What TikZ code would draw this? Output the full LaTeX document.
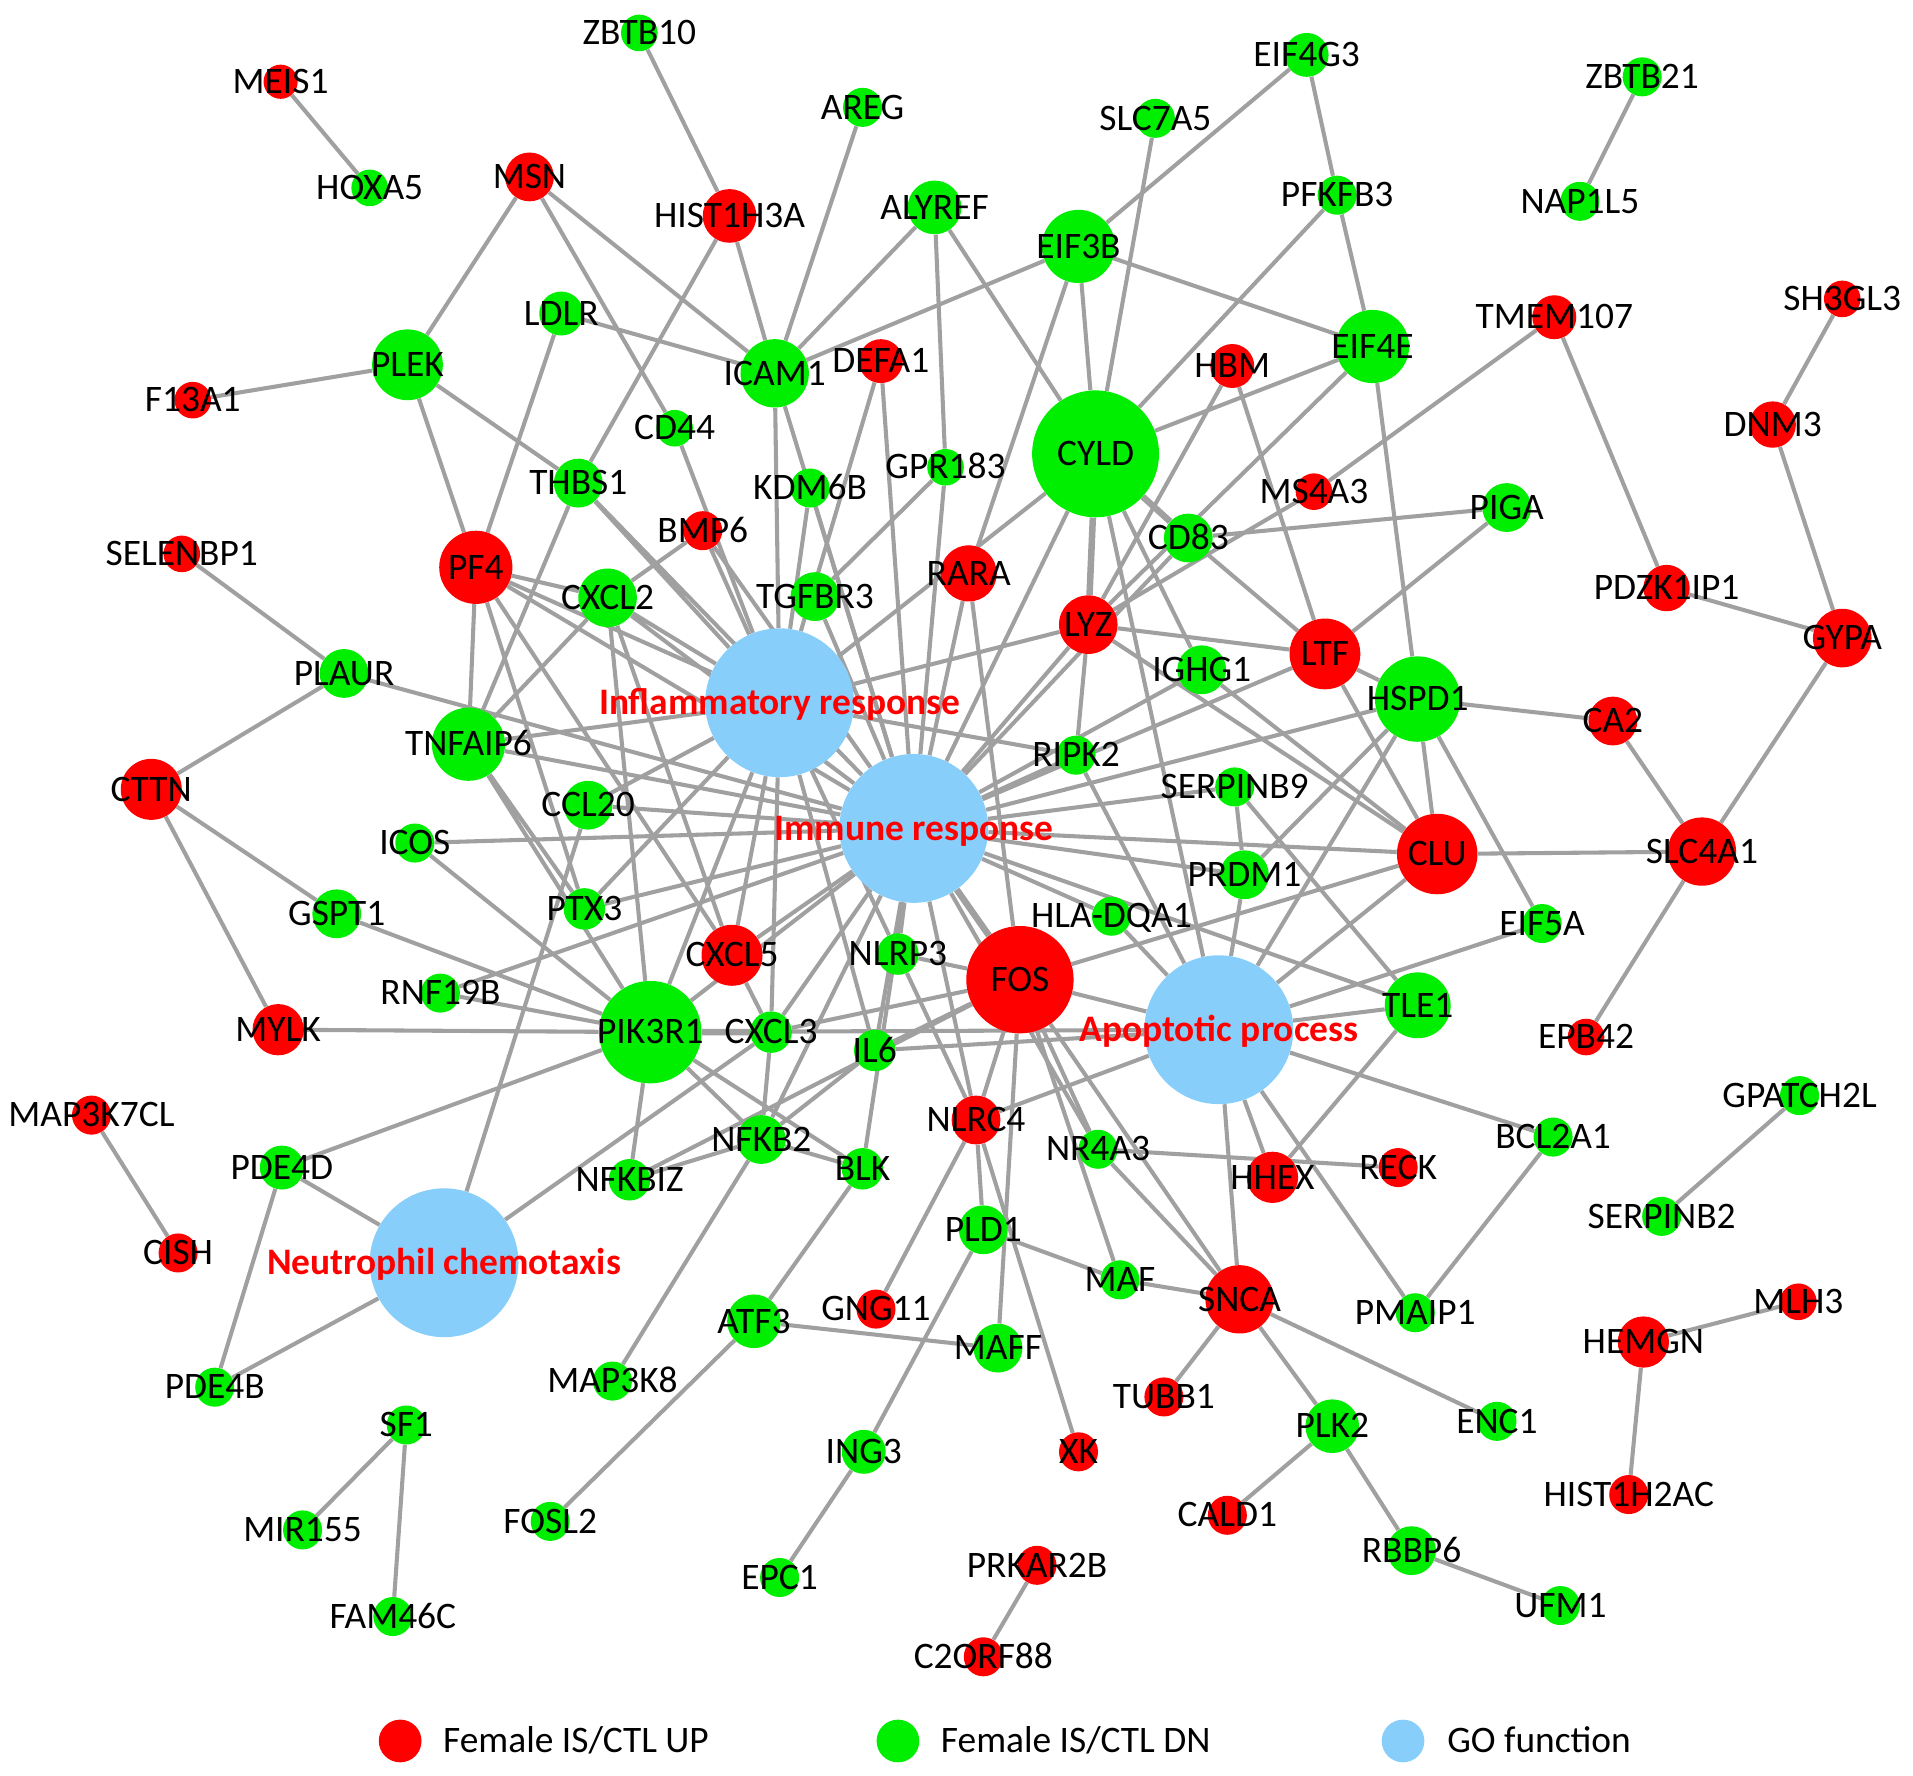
\documentclass[tikz,border=0pt]{standalone}
\usepackage{fontspec}
\setmainfont{Carlito}
\usetikzlibrary{backgrounds}
\definecolor{upred}{RGB}{255,0,0}
\definecolor{dngreen}{RGB}{0,238,0}
\definecolor{goblue}{RGB}{135,206,250}
\definecolor{edgegray}{RGB}{160,160,160}
\tikzset{
  gene/.style={circle, inner sep=0pt, minimum size=#1*0.75pt},
  upnode/.style={gene=#1, fill=upred},
  dnnode/.style={gene=#1, fill=dngreen},
  gonode/.style={gene=#1, fill=goblue},
  lbl/.style={font=\fontsize{23}{27}\selectfont, inner sep=0pt, text height=0.64em, text depth=0pt, yshift=-4pt},
  golbl/.style={font=\fontsize{23}{27}\selectfont\bfseries, text=upred, inner sep=0pt, text height=0.64em, text depth=0pt, yshift=-4pt},
  link/.style={draw=edgegray, line width=2.5pt},
  thicklink/.style={draw=edgegray, line width=4pt},
}
\begin{document}
\begin{tikzpicture}[x=0.75pt,y=0.75pt,yscale=-1,xscale=1]
\useasboundingbox (0,0) rectangle (1568,1455);

% GO terms
\node[gonode=122, label={[golbl]center:Inflammatory response}] (infl) at (639,576) {};
\node[gonode=122, label={[golbl]center:Immune response}] (immune) at (749,679) {};
\node[gonode=122, label={[golbl]center:Apoptotic process}] (apop) at (999,844) {};
\node[gonode=122, label={[golbl]center:Neutrophil chemotaxis}] (neutro) at (364,1035) {};

% Up-regulated genes
\node[upnode=28, label={[lbl]center:MEIS1}] (meis1) at (230,67) {};
\node[upnode=40, label={[lbl]center:MSN}] (msn) at (434,145) {};
\node[upnode=44, label={[lbl]center:HIST1H3A}] (hist1h3a) at (598,177) {};
\node[upnode=30, label={[lbl]center:F13A1}] (f13a1) at (158,328) {};
\node[upnode=36, label={[lbl]center:DEFA1}] (defa1) at (722,296) {};
\node[upnode=36, label={[lbl]center:HBM}] (hbm) at (1010,300) {};
\node[upnode=36, label={[lbl]center:TMEM107}] (tmem107) at (1274,260) {};
\node[upnode=30, label={[lbl]center:SH3GL3}] (sh3gl3) at (1510,245) {};
\node[upnode=38, label={[lbl]center:DNM3}] (dnm3) at (1453,348) {};
\node[upnode=30, label={[lbl]center:MS4A3}] (ms4a3) at (1077,403) {};
\node[upnode=60, label={[lbl]center:PF4}] (pf4) at (390,465) {};
\node[upnode=32, label={[lbl]center:BMP6}] (bmp6) at (576,435) {};
\node[upnode=46, label={[lbl]center:RARA}] (rara) at (794,470) {};
\node[upnode=48, label={[lbl]center:LYZ}] (lyz) at (892,512) {};
\node[upnode=58, label={[lbl]center:LTF}] (ltf) at (1086,536) {};
\node[upnode=38, label={[lbl]center:PDZK1IP1}] (pdzk1ip1) at (1366,482) {};
\node[upnode=48, label={[lbl]center:GYPA}] (gypa) at (1510,523) {};
\node[upnode=30, label={[lbl]center:SELENBP1}] (selenbp1) at (149,454) {};
\node[upnode=50, label={[lbl]center:CTTN}] (cttn) at (124,647) {};
\node[upnode=40, label={[lbl]center:CA2}] (ca2) at (1322,591) {};
\node[upnode=66, label={[lbl]center:CLU}] (clu) at (1178,700) {};
\node[upnode=56, label={[lbl]center:SLC4A1}] (slc4a1) at (1395,698) {};
\node[upnode=50, label={[lbl]center:CXCL5}] (cxcl5) at (600,783) {};
\node[upnode=88, label={[lbl]center:FOS}] (fos) at (836,803) {};
\node[upnode=42, label={[lbl]center:MYLK}] (mylk) at (228,844) {};
\node[upnode=30, label={[lbl]center:EPB42}] (epb42) at (1300,850) {};
\node[upnode=32, label={[lbl]center:MAP3K7CL}] (map3k7cl) at (75,914) {};
\node[upnode=40, label={[lbl]center:NLRC4}] (nlrc4) at (800,918) {};
\node[upnode=42, label={[lbl]center:HHEX}] (hhex) at (1043,965) {};
\node[upnode=32, label={[lbl]center:RECK}] (reck) at (1146,957) {};
\node[upnode=32, label={[lbl]center:CISH}] (cish) at (146,1027) {};
\node[upnode=56, label={[lbl]center:SNCA}] (snca) at (1016,1065) {};
\node[upnode=32, label={[lbl]center:GNG11}] (gng11) at (718,1073) {};
\node[upnode=42, label={[lbl]center:HEMGN}] (hemgn) at (1347,1100) {};
\node[upnode=30, label={[lbl]center:MLH3}] (mlh3) at (1474,1067) {};
\node[upnode=32, label={[lbl]center:TUBB1}] (tubb1) at (954,1145) {};
\node[upnode=32, label={[lbl]center:XK}] (xk) at (884,1190) {};
\node[upnode=32, label={[lbl]center:CALD1}] (cald1) at (1006,1242) {};
\node[upnode=32, label={[lbl]center:HIST1H2AC}] (hist1h2ac) at (1335,1225) {};
\node[upnode=32, label={[lbl]center:PRKAR2B}] (prkar2b) at (850,1283) {};
\node[upnode=32, label={[lbl]center:C2ORF88}] (c2orf88) at (806,1358) {};

% Down-regulated genes
\node[dnnode=30, label={[lbl]center:ZBTB10}] (zbtb10) at (524,27) {};
\node[dnnode=32, label={[lbl]center:AREG}] (areg) at (707,88) {};
\node[dnnode=36, label={[lbl]center:EIF4G3}] (eif4g3) at (1071,45) {};
\node[dnnode=32, label={[lbl]center:SLC7A5}] (slc7a5) at (947,97) {};
\node[dnnode=32, label={[lbl]center:ZBTB21}] (zbtb21) at (1346,63) {};
\node[dnnode=30, label={[lbl]center:HOXA5}] (hoxa5) at (303,154) {};
\node[dnnode=44, label={[lbl]center:ALYREF}] (alyref) at (766,170) {};
\node[dnnode=32, label={[lbl]center:PFKFB3}] (pfkfb3) at (1096,160) {};
\node[dnnode=32, label={[lbl]center:NAP1L5}] (nap1l5) at (1295,165) {};
\node[dnnode=60, label={[lbl]center:EIF3B}] (eif3b) at (884,202) {};
\node[dnnode=36, label={[lbl]center:LDLR}] (ldlr) at (460,257) {};
\node[dnnode=58, label={[lbl]center:PLEK}] (plek) at (334,299) {};
\node[dnnode=56, label={[lbl]center:ICAM1}] (icam1) at (635,306) {};
\node[dnnode=60, label={[lbl]center:EIF4E}] (eif4e) at (1125,284) {};
\node[dnnode=30, label={[lbl]center:CD44}] (cd44) at (553,351) {};
\node[dnnode=104, label={[lbl]center:CYLD}] (cyld) at (898,372) {};
\node[dnnode=40, label={[lbl]center:THBS1}] (thbs1) at (474,396) {};
\node[dnnode=32, label={[lbl]center:KDM6B}] (kdm6b) at (664,400) {};
\node[dnnode=30, label={[lbl]center:GPR183}] (gpr183) at (775,383) {};
\node[dnnode=40, label={[lbl]center:PIGA}] (piga) at (1235,416) {};
\node[dnnode=40, label={[lbl]center:CD83}] (cd83) at (974,441) {};
\node[dnnode=48, label={[lbl]center:CXCL2}] (cxcl2) at (498,490) {};
\node[dnnode=40, label={[lbl]center:TGFBR3}] (tgfbr3) at (668,489) {};
\node[dnnode=40, label={[lbl]center:IGHG1}] (ighg1) at (985,549) {};
\node[dnnode=70, label={[lbl]center:HSPD1}] (hspd1) at (1162,573) {};
\node[dnnode=40, label={[lbl]center:PLAUR}] (plaur) at (282,552) {};
\node[dnnode=60, label={[lbl]center:TNFAIP6}] (tnfaip6) at (384,610) {};
\node[dnnode=32, label={[lbl]center:RIPK2}] (ripk2) at (882,619) {};
\node[dnnode=32, label={[lbl]center:SERPINB9}] (serpinb9) at (1012,645) {};
\node[dnnode=40, label={[lbl]center:CCL20}] (ccl20) at (482,660) {};
\node[dnnode=32, label={[lbl]center:ICOS}] (icos) at (340,691) {};
\node[dnnode=40, label={[lbl]center:PRDM1}] (prdm1) at (1020,717) {};
\node[dnnode=34, label={[lbl]center:PTX3}] (ptx3) at (479,745) {};
\node[dnnode=40, label={[lbl]center:GSPT1}] (gspt1) at (276,749) {};
\node[dnnode=32, label={[lbl]center:HLA-DQA1}] (hladqa1) at (911,751) {};
\node[dnnode=32, label={[lbl]center:EIF5A}] (eif5a) at (1264,757) {};
\node[dnnode=34, label={[lbl]center:NLRP3}] (nlrp3) at (736,782) {};
\node[dnnode=32, label={[lbl]center:RNF19B}] (rnf19b) at (361,814) {};
\node[dnnode=84, label={[lbl]center:PIK3R1}] (pik3r1) at (533,846) {};
\node[dnnode=34, label={[lbl]center:CXCL3}] (cxcl3) at (632,846) {};
\node[dnnode=34, label={[lbl]center:IL6}] (il6) at (717,861) {};
\node[dnnode=54, label={[lbl]center:TLE1}] (tle1) at (1162,824) {};
\node[dnnode=32, label={[lbl]center:BCL2A1}] (bcl2a1) at (1273,932) {};
\node[dnnode=40, label={[lbl]center:NFKB2}] (nfkb2) at (624,934) {};
\node[dnnode=34, label={[lbl]center:NFKBIZ}] (nfkbiz) at (516,967) {};
\node[dnnode=34, label={[lbl]center:BLK}] (blk) at (707,958) {};
\node[dnnode=32, label={[lbl]center:NR4A3}] (nr4a3) at (900,942) {};
\node[dnnode=36, label={[lbl]center:PDE4D}] (pde4d) at (231,957) {};
\node[dnnode=32, label={[lbl]center:GPATCH2L}] (gpatch2l) at (1475,898) {};
\node[dnnode=32, label={[lbl]center:SERPINB2}] (serpinb2) at (1362,997) {};
\node[dnnode=40, label={[lbl]center:PLD1}] (pld1) at (806,1008) {};
\node[dnnode=32, label={[lbl]center:MAF}] (maf) at (918,1049) {};
\node[dnnode=32, label={[lbl]center:PMAIP1}] (pmaip1) at (1160,1076) {};
\node[dnnode=44, label={[lbl]center:ATF3}] (atf3) at (618,1083) {};
\node[dnnode=40, label={[lbl]center:MAFF}] (maff) at (818,1105) {};
\node[dnnode=32, label={[lbl]center:MAP3K8}] (map3k8) at (502,1132) {};
\node[dnnode=32, label={[lbl]center:PDE4B}] (pde4b) at (176,1137) {};
\node[dnnode=32, label={[lbl]center:SF1}] (sf1) at (333,1168) {};
\node[dnnode=44, label={[lbl]center:PLK2}] (plk2) at (1092,1169) {};
\node[dnnode=32, label={[lbl]center:ENC1}] (enc1) at (1227,1165) {};
\node[dnnode=36, label={[lbl]center:ING3}] (ing3) at (708,1190) {};
\node[dnnode=32, label={[lbl]center:MIR155}] (mir155) at (248,1254) {};
\node[dnnode=32, label={[lbl]center:FOSL2}] (fosl2) at (451,1247) {};
\node[dnnode=40, label={[lbl]center:RBBP6}] (rbbp6) at (1157,1271) {};
\node[dnnode=32, label={[lbl]center:EPC1}] (epc1) at (639,1293) {};
\node[dnnode=32, label={[lbl]center:UFM1}] (ufm1) at (1279,1316) {};
\node[dnnode=32, label={[lbl]center:FAM46C}] (fam46c) at (322,1325) {};

% Edges
\begin{scope}[on background layer]
% outer pairs
\draw[link] (meis1) -- (hoxa5) (zbtb21) -- (nap1l5) (sh3gl3) -- (dnm3) (dnm3) -- (gypa);
\draw[link] (pdzk1ip1) -- (gypa) (tmem107) -- (pdzk1ip1) (gypa) -- (slc4a1) (ca2) -- (slc4a1);
\draw[link] (hspd1) -- (ca2) (clu) -- (slc4a1) (slc4a1) -- (epb42) (map3k7cl) -- (cish);
\draw[link] (gpatch2l) -- (serpinb2) (mlh3) -- (hemgn) (hemgn) -- (hist1h2ac);
\draw[link] (sf1) -- (mir155) (sf1) -- (fam46c) (prkar2b) -- (c2orf88) (rbbp6) -- (ufm1);
\draw[link] (plk2) -- (rbbp6) (plk2) -- (cald1) (snca) -- (plk2) (snca) -- (tubb1) (snca) -- (enc1);
\draw[link] (ing3) -- (epc1) (atf3) -- (fosl2) (f13a1) -- (plek) (selenbp1) -- (plaur);
\draw[link] (plaur) -- (cttn) (cttn) -- (gspt1) (cttn) -- (mylk) (mylk) -- (pik3r1);
\draw[link] (pde4d) -- (pde4b) (pde4d) -- (neutro) (pde4b) -- (neutro) (pde4d) -- (pik3r1);
\draw[link] (neutro) -- (ccl20) (neutro) -- (cxcl3);
% top
\draw[link] (zbtb10) -- (hist1h3a) (hist1h3a) -- (icam1) (hist1h3a) -- (thbs1) (areg) -- (icam1);
\draw[link] (msn) -- (plek) (msn) -- (icam1) (msn) -- (cd44) (ldlr) -- (icam1) (ldlr) -- (pf4);
\draw[link] (plek) -- (pf4) (plek) -- (thbs1) (alyref) -- (icam1) (alyref) -- (gpr183) (alyref) -- (cyld);
\draw[link] (eif3b) -- (icam1) (eif3b) -- (eif4g3) (eif3b) -- (eif4e) (eif3b) -- (cyld) (eif3b) -- (rara);
\draw[link] (eif4g3) -- (pfkfb3) (slc7a5) -- (cyld) (pfkfb3) -- (cyld) (pfkfb3) -- (eif4e);
\draw[link] (eif4e) -- (cyld) (eif4e) -- (lyz) (eif4e) -- (hspd1) (hbm) -- (lyz) (hbm) -- (ltf);
\draw[link] (tmem107) -- (ms4a3) (ms4a3) -- (lyz) (piga) -- (cd83) (piga) -- (ltf);
\draw[thicklink] (cd83) -- (cyld) (cyld) -- (lyz);
\draw[link] (cd83) -- (ltf) (cd83) -- (immune) (cyld) -- (ighg1) (cyld) -- (immune) (cyld) -- (infl) (cyld) -- (apop);
% left of centre
\draw[link] (pf4) -- (cxcl2) (pf4) -- (tnfaip6) (pf4) -- (infl) (pf4) -- (immune) (pf4) -- (cxcl5) (pf4) -- (ptx3);
\draw[link] (thbs1) -- (tnfaip6) (thbs1) -- (infl) (thbs1) -- (immune) (cd44) -- (infl);
\draw[link] (bmp6) -- (cxcl2) (bmp6) -- (infl) (bmp6) -- (immune);
\draw[link] (cxcl2) -- (tnfaip6) (cxcl2) -- (pik3r1) (cxcl2) -- (cxcl5) (cxcl2) -- (infl) (cxcl2) -- (immune);
\draw[link] (tnfaip6) -- (ptx3) (tnfaip6) -- (pik3r1) (tnfaip6) -- (infl) (tnfaip6) -- (immune);
\draw[link] (plaur) -- (immune) (ccl20) -- (infl) (ccl20) -- (immune) (icos) -- (immune) (icos) -- (pik3r1);
\draw[link] (ptx3) -- (infl) (ptx3) -- (immune) (gspt1) -- (pik3r1) (rnf19b) -- (pik3r1) (rnf19b) -- (immune);
% above centre
\draw[link] (icam1) -- (infl) (icam1) -- (immune) (defa1) -- (infl) (defa1) -- (immune);
\draw[link] (kdm6b) -- (infl) (kdm6b) -- (immune) (gpr183) -- (immune) (gpr183) -- (tgfbr3);
\draw[link] (tgfbr3) -- (immune) (rara) -- (immune) (rara) -- (fos);
% below centre
\draw[link] (cxcl5) -- (infl) (cxcl5) -- (immune) (cxcl5) -- (cxcl3);
\draw[thicklink] (pik3r1) -- (cxcl3) (fos) -- (immune);
\draw[link] (pik3r1) -- (nfkbiz) (pik3r1) -- (nfkb2) (pik3r1) -- (blk) (pik3r1) -- (infl) (pik3r1) -- (immune) (pik3r1) -- (apop);
\draw[link] (cxcl3) -- (nfkb2) (cxcl3) -- (infl) (cxcl3) -- (immune) (cxcl3) -- (fos);
\draw[link] (nfkb2) -- (nfkbiz) (nfkb2) -- (blk) (nfkb2) -- (map3k8) (nfkb2) -- (immune) (nfkb2) -- (il6);
\draw[link] (nfkbiz) -- (fos) (blk) -- (immune) (blk) -- (atf3);
\draw[link] (il6) -- (immune) (il6) -- (infl) (il6) -- (fos) (il6) -- (apop);
\draw[link] (nlrp3) -- (immune) (nlrp3) -- (infl) (nlrp3) -- (nlrc4) (nlrp3) -- (fos);
\draw[link] (nlrc4) -- (immune) (nlrc4) -- (fos) (nlrc4) -- (apop) (nlrc4) -- (gng11) (nlrc4) -- (pld1) (nlrc4) -- (xk);
\draw[link] (pld1) -- (ing3) (pld1) -- (maf) (maf) -- (snca) (fos) -- (maf) (fos) -- (maff) (maff) -- (atf3);
\draw[link] (fos) -- (apop) (fos) -- (nr4a3) (fos) -- (snca) (fos) -- (clu);
\draw[link] (nr4a3) -- (reck) (nr4a3) -- (snca) (nr4a3) -- (immune);
% right of centre
\draw[link] (lyz) -- (ltf) (lyz) -- (infl) (lyz) -- (immune) (lyz) -- (ripk2) (lyz) -- (clu);
\draw[link] (ripk2) -- (infl) (ripk2) -- (immune) (ripk2) -- (apop) (ighg1) -- (immune) (ighg1) -- (clu);
\draw[link] (serpinb9) -- (immune) (serpinb9) -- (prdm1) (serpinb9) -- (tle1);
\draw[link] (prdm1) -- (immune) (prdm1) -- (apop) (prdm1) -- (hspd1) (hladqa1) -- (immune) (hladqa1) -- (apop);
\draw[link] (hspd1) -- (ltf) (hspd1) -- (clu) (hspd1) -- (eif5a) (hspd1) -- (immune) (hspd1) -- (apop);
\draw[link] (clu) -- (ltf) (clu) -- (immune) (clu) -- (apop) (ltf) -- (immune);
\draw[link] (tle1) -- (apop) (tle1) -- (hhex) (tle1) -- (immune) (hhex) -- (apop) (snca) -- (apop);
\draw[link] (pmaip1) -- (apop) (bcl2a1) -- (apop) (bcl2a1) -- (pmaip1) (eif5a) -- (apop);
\end{scope}

% Legend
\node[upnode=35] (legup) at (328,1427) {};
\node[lbl, anchor=west] (leguptext) at (363,1427) {Female IS/CTL UP};
\node[dnnode=35] (legdn) at (736,1427) {};
\node[lbl, anchor=west] (legdntext) at (771,1427) {Female IS/CTL DN};
\node[gonode=35] (leggo) at (1150,1427) {};
\node[lbl, anchor=west] (leggotext) at (1186,1427) {GO function};
\end{tikzpicture}
\end{document}
